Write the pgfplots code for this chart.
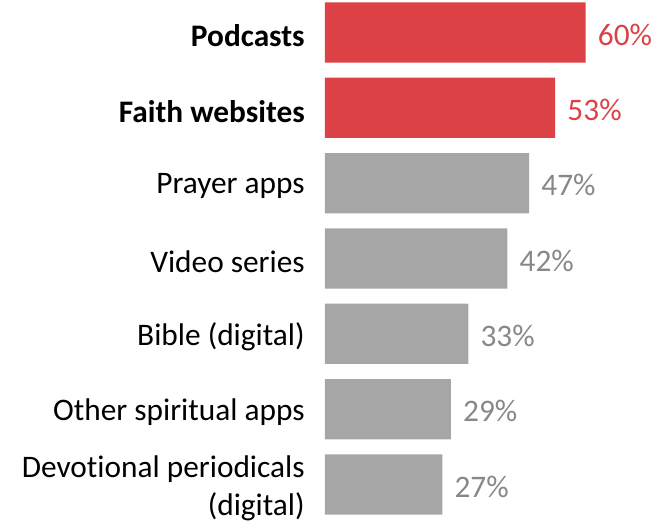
\documentclass[border=0pt]{standalone}
\usepackage{fontspec}
\setmainfont{Carlito}[Ligatures=NoCommon]
\usepackage{pgfplots}
\pgfplotsset{compat=1.18}
\definecolor{barred}{HTML}{DC4145}
\definecolor{bargray}{HTML}{A6A6A6}
\definecolor{valgray}{HTML}{888888}
\begin{document}
\begin{tikzpicture}
\begin{axis}[
  scale only axis, width=499.5pt, height=394.5pt,
  xmin=-74.8, xmax=78.5, ymin=-0.431, ymax=6.551, y dir=reverse,
  axis line style={draw=none}, xtick=\empty, ytick=\empty,
  clip=false,
  /pgf/number format/assume math mode=true,
  xbar, bar width=0.8, bar shift=0pt,
  point meta=x,
  nodes near coords={\pgfmathprintnumber{\pgfplotspointmeta}\%},
  nodes near coords style={font=\fontsize{23.5}{28}\selectfont, anchor=west, inner sep=0pt, xshift=9pt, yshift=-1.5pt},
]
\path (rel axis cs:0,0) (rel axis cs:1,1);
\addplot[fill=barred, draw=none, every node near coord/.append style={text=barred}]
  coordinates {(60,0) (53,1)};
\addplot[fill=bargray, draw=none, every node near coord/.append style={text=valgray}]
  coordinates {(47,2) (42,3) (33,4) (29,5) (27,6)};
\tikzset{catlab/.style={anchor=east, inner sep=0pt, yshift=-2.5pt, font=\fontsize{23.5}{28.5}\selectfont, align=right}}
\node[catlab, font=\bfseries\fontsize{23.5}{28}\selectfont] at (axis cs:-4.6,0) {Podcasts};
\node[catlab, font=\bfseries\fontsize{23.5}{28}\selectfont] at (axis cs:-4.6,1) {Faith websites};
\node[catlab] at (axis cs:-4.6,2) {Prayer apps};
\node[catlab] at (axis cs:-4.6,3) {Video series};
\node[catlab] at (axis cs:-4.6,4) {Bible (digital)};
\node[catlab] at (axis cs:-4.6,5) {Other spiritual apps};
\node[catlab] at (axis cs:-4.6,6) {Devotional periodicals\\(digital)};
\end{axis}
\end{tikzpicture}
\end{document}
